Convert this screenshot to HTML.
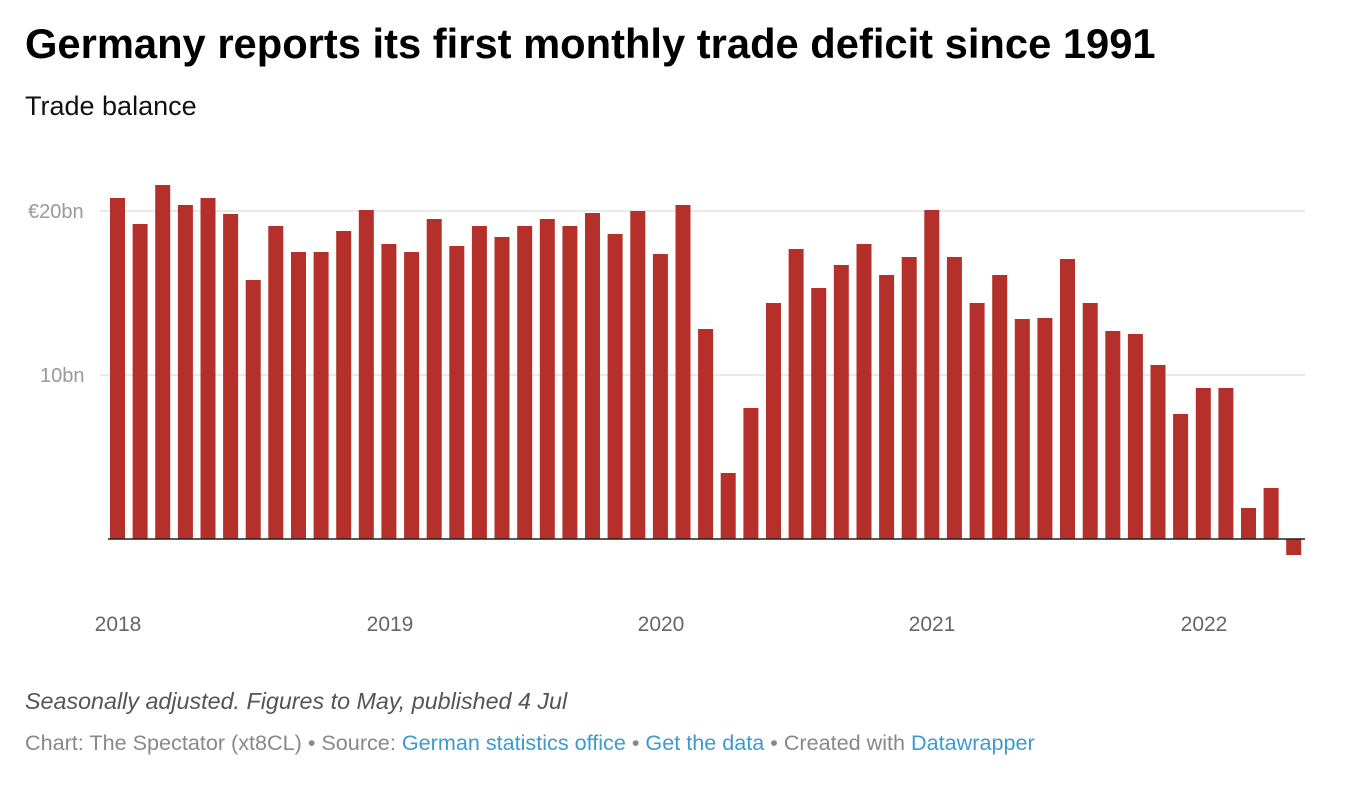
<!DOCTYPE html>
<html><head><meta charset="utf-8"><style>
body{margin:0;background:#fff;width:1346px;height:802px;overflow:hidden;font-family:"Liberation Sans",sans-serif}
</style></head><body>
<svg width="1346" height="802" xmlns="http://www.w3.org/2000/svg" font-family="Liberation Sans, sans-serif">
<text x="25" y="58" font-size="41.7" font-weight="bold" fill="#000">Germany reports its first monthly trade deficit since 1991</text>
<text x="25" y="115" font-size="27" fill="#111">Trade balance</text>
<line x1="100" x2="1305" y1="211" y2="211" stroke="#e3e3e3" stroke-width="1.5"/>
<line x1="100" x2="1305" y1="375" y2="375" stroke="#e3e3e3" stroke-width="1.5"/>
<text x="28" y="218" font-size="20" fill="#999">€20bn</text>
<text x="40" y="382" font-size="20" fill="#999">10bn</text>
<g fill="#b5302a">
<rect x="110.0" y="198" width="15" height="341"/>
<rect x="132.6" y="224" width="15" height="315"/>
<rect x="155.2" y="185" width="15" height="354"/>
<rect x="177.9" y="205" width="15" height="334"/>
<rect x="200.5" y="198" width="15" height="341"/>
<rect x="223.1" y="214" width="15" height="325"/>
<rect x="245.7" y="280" width="15" height="259"/>
<rect x="268.3" y="226" width="15" height="313"/>
<rect x="291.0" y="252" width="15" height="287"/>
<rect x="313.6" y="252" width="15" height="287"/>
<rect x="336.2" y="231" width="15" height="308"/>
<rect x="358.8" y="210" width="15" height="329"/>
<rect x="381.4" y="244" width="15" height="295"/>
<rect x="404.1" y="252" width="15" height="287"/>
<rect x="426.7" y="219" width="15" height="320"/>
<rect x="449.3" y="246" width="15" height="293"/>
<rect x="471.9" y="226" width="15" height="313"/>
<rect x="494.5" y="237" width="15" height="302"/>
<rect x="517.2" y="226" width="15" height="313"/>
<rect x="539.8" y="219" width="15" height="320"/>
<rect x="562.4" y="226" width="15" height="313"/>
<rect x="585.0" y="213" width="15" height="326"/>
<rect x="607.6" y="234" width="15" height="305"/>
<rect x="630.3" y="211" width="15" height="328"/>
<rect x="652.9" y="254" width="15" height="285"/>
<rect x="675.5" y="205" width="15" height="334"/>
<rect x="698.1" y="329" width="15" height="210"/>
<rect x="720.7" y="473" width="15" height="66"/>
<rect x="743.4" y="408" width="15" height="131"/>
<rect x="766.0" y="303" width="15" height="236"/>
<rect x="788.6" y="249" width="15" height="290"/>
<rect x="811.2" y="288" width="15" height="251"/>
<rect x="833.8" y="265" width="15" height="274"/>
<rect x="856.5" y="244" width="15" height="295"/>
<rect x="879.1" y="275" width="15" height="264"/>
<rect x="901.7" y="257" width="15" height="282"/>
<rect x="924.3" y="210" width="15" height="329"/>
<rect x="946.9" y="257" width="15" height="282"/>
<rect x="969.6" y="303" width="15" height="236"/>
<rect x="992.2" y="275" width="15" height="264"/>
<rect x="1014.8" y="319" width="15" height="220"/>
<rect x="1037.4" y="318" width="15" height="221"/>
<rect x="1060.0" y="259" width="15" height="280"/>
<rect x="1082.7" y="303" width="15" height="236"/>
<rect x="1105.3" y="331" width="15" height="208"/>
<rect x="1127.9" y="334" width="15" height="205"/>
<rect x="1150.5" y="365" width="15" height="174"/>
<rect x="1173.1" y="414" width="15" height="125"/>
<rect x="1195.8" y="388" width="15" height="151"/>
<rect x="1218.4" y="388" width="15" height="151"/>
<rect x="1241.0" y="508" width="15" height="31"/>
<rect x="1263.6" y="488" width="15" height="51"/>
<rect x="1286.2" y="539" width="15" height="16"/>
</g>
<line x1="108" x2="1305" y1="539" y2="539" stroke="#222" stroke-width="1.5"/>
<g font-size="21" fill="#666" text-anchor="middle">
<text x="118" y="631">2018</text><text x="390" y="631">2019</text><text x="661" y="631">2020</text><text x="932" y="631">2021</text><text x="1204" y="631">2022</text>
</g>
<text x="25" y="709" font-size="23.3" font-style="italic" fill="#555">Seasonally adjusted. Figures to May, published 4 Jul</text>
<text x="25" y="750" font-size="21.6" fill="#888">Chart: The Spectator (xt8CL) • Source: <tspan fill="#3c9ad0">German statistics office</tspan> • <tspan fill="#3c9ad0">Get the data</tspan> • Created with <tspan fill="#3c9ad0">Datawrapper</tspan></text>
</svg>
</body></html>
